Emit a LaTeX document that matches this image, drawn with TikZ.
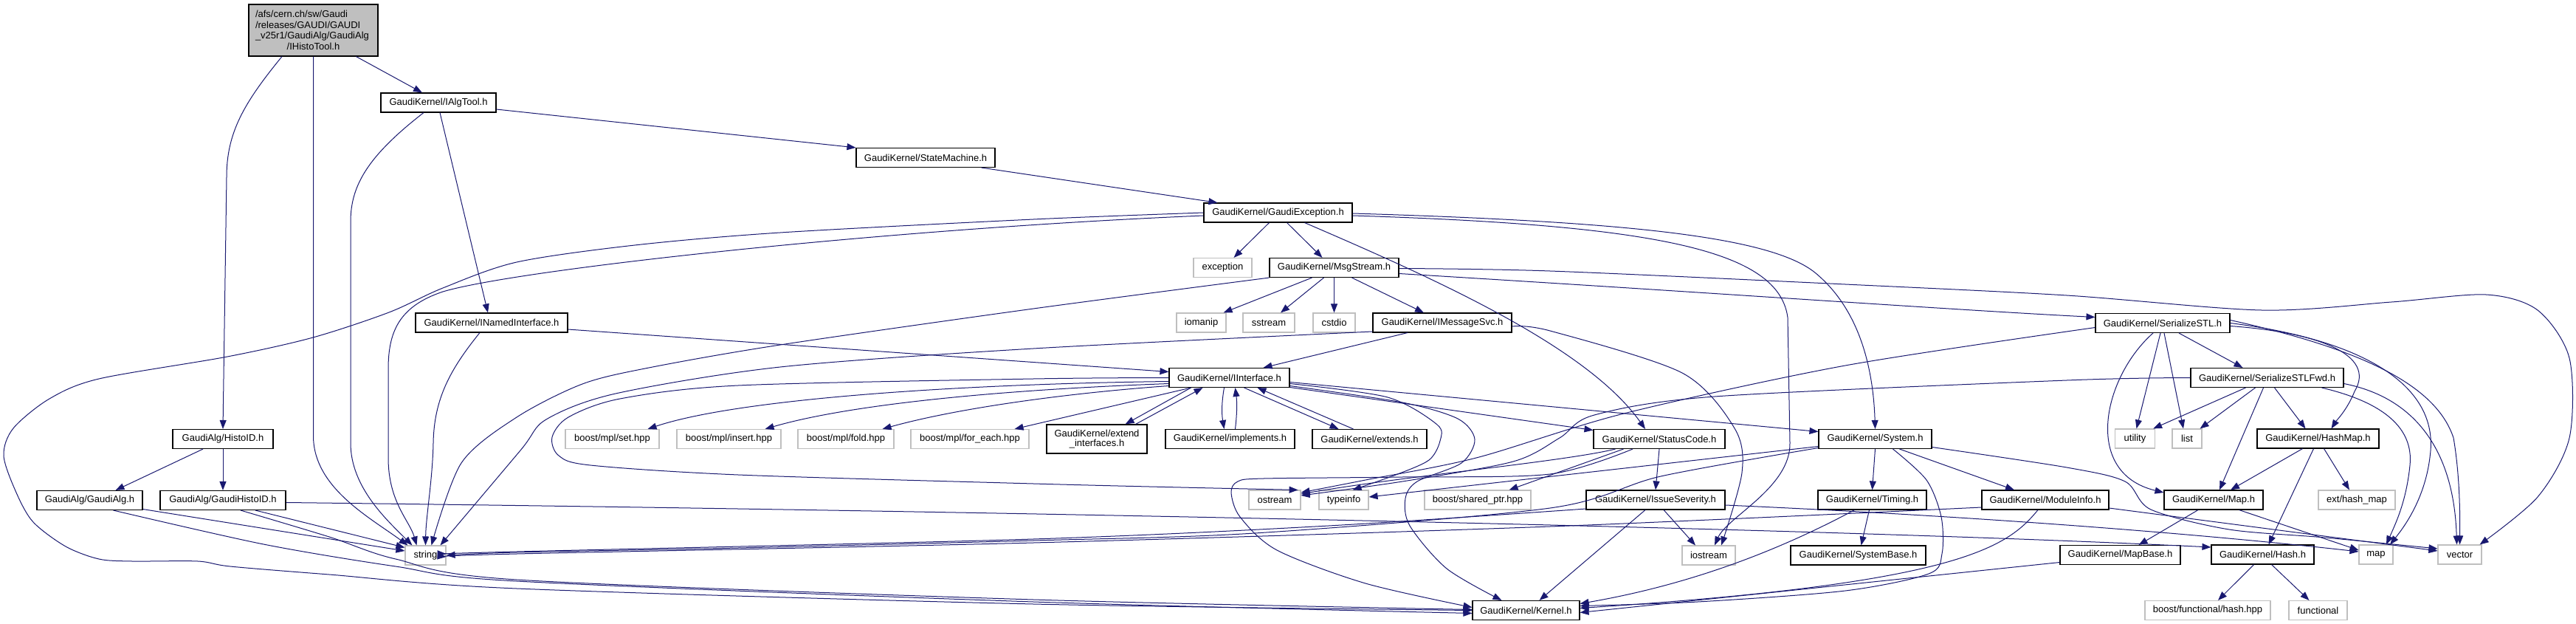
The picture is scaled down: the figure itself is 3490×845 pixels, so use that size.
\documentclass[tikz,border=0pt]{standalone}
\usepackage{fontspec}
\setmainfont{Liberation Sans}
\usetikzlibrary{arrows.meta,calc}
\definecolor{edgeblue}{HTML}{191970}
\definecolor{extgray}{HTML}{BFBFBF}
\begin{document}
\begin{tikzpicture}[x=1pt,y=-1pt,
  every node/.style={font=\fontsize{13}{14.7}\selectfont, inner sep=0pt, minimum height=26pt, anchor=center},
  doc/.style={draw=black, line width=1.1pt, fill=white},
  ext/.style={draw=extgray, line width=1.1pt, fill=white},
  edg/.style={draw=edgeblue, line width=1pt, -{Triangle[length=12pt,width=9pt]}},
]
\useasboundingbox (0,0) rectangle (3490,845);

% ---------------- nodes ----------------
\node[doc, fill=extgray, minimum width=175pt, minimum height=70pt, text width=157pt, align=left] (root) at (424.5,41)
  {/afs/cern.ch/sw/Gaudi\\/releases/GAUDI/GAUDI\\\_v25r1/GaudiAlg/GaudiAlg\\\makebox[157pt][c]{/IHistoTool.h}};
\node[doc, minimum width=156pt] (IAlgTool) at (594,139) {GaudiKernel/IAlgTool.h};
\node[doc, minimum width=188pt] (StateMachine) at (1254,213.5) {GaudiKernel/StateMachine.h};
\node[doc, minimum width=201pt] (GaudiException) at (1731.5,288) {GaudiKernel/GaudiException.h};
\node[ext, minimum width=79pt] (exception) at (1656.5,362.5) {exception};
\node[doc, minimum width=175pt] (MsgStream) at (1807.5,362.5) {GaudiKernel/MsgStream.h};
\node[ext, minimum width=67pt] (iomanip) at (1627.5,437) {iomanip};
\node[ext, minimum width=70pt] (sstream) at (1719,437) {sstream};
\node[ext, minimum width=57pt] (cstdio) at (1807.5,437) {cstdio};
\node[doc, minimum width=188pt] (IMessageSvc) at (1954,437) {GaudiKernel/IMessageSvc.h};
\node[doc, minimum width=206pt] (INamedInterface) at (666,437) {GaudiKernel/INamedInterface.h};
\node[doc, minimum width=182pt] (SerializeSTL) at (2930,437.5) {GaudiKernel/SerializeSTL.h};
\node[doc, minimum width=163pt] (IInterface) at (1665.5,511.5) {GaudiKernel/IInterface.h};
\node[doc, minimum width=207pt] (SerializeSTLFwd) at (3071.5,511.5) {GaudiKernel/SerializeSTLFwd.h};
\node[doc, minimum width=136pt] (HistoID) at (302,594.5) {GaudiAlg/HistoID.h};
\node[ext, minimum width=127pt] (mplset) at (829.5,594.5) {boost/mpl/set.hpp};
\node[ext, minimum width=141pt] (mplinsert) at (987.5,594.5) {boost/mpl/insert.hpp};
\node[ext, minimum width=130pt] (mplfold) at (1146,594.5) {boost/mpl/fold.hpp};
\node[ext, minimum width=160pt] (mplforeach) at (1314,594.5) {boost/mpl/for\_each.hpp};
\node[doc, minimum width=136pt, minimum height=39pt, align=center, font=\fontsize{13}{13.8}\selectfont] (extif) at (1486,594.5) {GaudiKernel/extend\\\_interfaces.h};
\node[doc, minimum width=175pt] (implements) at (1666.5,594.5) {GaudiKernel/implements.h};
\node[doc, minimum width=155pt] (extends) at (1855.5,594.5) {GaudiKernel/extends.h};
\node[doc, minimum width=178pt] (StatusCode) at (2248,594.5) {GaudiKernel/StatusCode.h};
\node[doc, minimum width=153pt] (System) at (2540.5,594.5) {GaudiKernel/System.h};
\node[ext, minimum width=54pt] (utility) at (2892.5,594) {utility};
\node[ext, minimum width=40pt] (stdlist) at (2963,594) {list};
\node[doc, minimum width=165pt] (HashMap) at (3140.5,594) {GaudiKernel/HashMap.h};
\node[doc, minimum width=143pt] (GaudiAlg) at (121.5,677.5) {GaudiAlg/GaudiAlg.h};
\node[doc, minimum width=170pt] (GaudiHistoID) at (302,677.5) {GaudiAlg/GaudiHistoID.h};
\node[ext, minimum width=70pt] (ostream) at (1727,677) {ostream};
\node[ext, minimum width=67pt] (typeinfo) at (1820.5,677) {typeinfo};
\node[ext, minimum width=144pt] (sharedptr) at (2002,677) {boost/shared\_ptr.hpp};
\node[doc, minimum width=188pt] (IssueSeverity) at (2243,677) {GaudiKernel/IssueSeverity.h};
\node[doc, minimum width=147pt] (Timing) at (2536.5,677) {GaudiKernel/Timing.h};
\node[doc, minimum width=172pt] (ModuleInfo) at (2771,677) {GaudiKernel/ModuleInfo.h};
\node[doc, minimum width=134pt] (Map) at (2999,677) {GaudiKernel/Map.h};
\node[ext, minimum width=104pt] (exthashmap) at (3193,677) {ext/hash\_map};
\node[ext, minimum width=55pt] (stdstring) at (576.5,752) {string};
\node[ext, minimum width=72pt] (iostream) at (2315,752) {iostream};
\node[doc, minimum width=183pt] (SystemBase) at (2517.5,752) {GaudiKernel/SystemBase.h};
\node[doc, minimum width=163pt] (MapBase) at (2872.5,751.5) {GaudiKernel/MapBase.h};
\node[doc, minimum width=139pt] (Hash) at (3065.5,751) {GaudiKernel/Hash.h};
\node[ext, minimum width=46pt] (stdmap) at (3219,751) {map};
\node[ext, minimum width=59pt] (stdvector) at (3332.5,751) {vector};
\node[doc, minimum width=145pt] (Kernel) at (2067.5,826.5) {GaudiKernel/Kernel.h};
\node[ext, minimum width=170pt] (hashhpp) at (2991,826.5) {boost/functional/hash.hpp};
\node[ext, minimum width=79pt] (functional) at (3140.5,826.5) {functional};

% ---------------- edges ----------------
% root
\draw[edg] ($(root.south)+(58,0)$) -- ($(IAlgTool.north)+(-22,0)$);
\draw[edg] (root.south) -- (424.5,590) .. controls (424.5,660) and (500,700) .. ($(stdstring.north west)+(4,0)$);
\draw[edg] ($(root.south)+(-42.5,0)$) .. controls (330,140) and (307,180) .. (307,240) -- (HistoID.north);
% IAlgTool
\draw[edg] ($(IAlgTool.south)+(2,0)$) -- ($(INamedInterface.north)+(-5,0)$);
\draw[edg] ($(IAlgTool.east)+(0,9)$) -- (StateMachine.north west);
\draw[edg] ($(IAlgTool.south)+(-20,0)$) .. controls (500,210) and (475,250) .. (475,300) -- (475,600) .. controls (475,660) and (525,705) .. ($(stdstring.north west)+(10,0)$);
% StateMachine
\draw[edg] ($(StateMachine.south east)+(-19,0)$) -- ($(GaudiException.north west)+(19,0)$);
% GaudiException
\draw[edg] ($(GaudiException.south)+(-12,0)$) -- ($(exception.north)+(15,0)$);
\draw[edg] ($(GaudiException.south)+(12,0)$) -- ($(MsgStream.north)+(-16,0)$);
\draw[edg] ($(GaudiException.south)+(36,0)$) .. controls (1950,380) and (2150,470) .. ($(StatusCode.north)+(-19,0)$);
\draw[edg] ($(GaudiException.east)+(0,1)$) .. controls (2200,300) and (2400,320) .. (2460,370) .. controls (2520,420) and (2538,500) .. (System.north);
\draw[edg] ($(GaudiException.east)+(0,4)$) .. controls (2250,305) and (2410,340) .. (2422,430) -- (2425,600) .. controls (2426,660) and (2340,700) .. ($(iostream.north)+(8,0)$);
\draw[edg] ($(GaudiException.west)+(0,4)$) .. controls (1200,310) and (700,365) .. (600,395) .. controls (540,415) and (526,450) .. (526,500) -- (526,620) .. controls (526,680) and (555,705) .. ($(stdstring.north)+(-12,0)$);
\draw[edg] plot[smooth] coordinates {(GaudiException.west) (1400,297) (1057,315) (860,332) (700,355) (600,390) (527,423) (424,457) (308,483) (134,513) (67,540) (18,580) (5,617) (22,667) (45,707) (89,740) (134,757) (179,760) (268,760) (312,767) (446,778) (700,797) (1400,818) (Kernel.west)};
% MsgStream
\draw[edg] ($(MsgStream.south)+(-30,0)$) -- ($(iomanip.north east)+(-4,0)$);
\draw[edg] ($(MsgStream.south)+(-14,0)$) -- ($(sstream.north)+(16,0)$);
\draw[edg] (MsgStream.south) -- (cstdio.north);
\draw[edg] ($(MsgStream.south)+(24,0)$) -- ($(IMessageSvc.north)+(-25,0)$);
\draw[edg] ($(MsgStream.east)+(0,8)$) .. controls (2300,395) and (2650,420) .. ($(SerializeSTL.west)+(0,-8)$);
\draw[edg] plot[smooth] coordinates {($(MsgStream.east)+(0,1)$) (2100,367) (2500,385) (2800,400) (3064,420) (3240,409) (3368,399) (3438,420) (3481,485) (3481,593) (3438,673) ($(stdvector.north east)+(-3,0)$)};
\draw[edg] plot[smooth] coordinates {(MsgStream.south west) (1400,418) (1057,467) (879,498) (789,520) (700,565) (625,627) ($(stdstring.north)+(8,0)$)};
% IMessageSvc
\draw[edg] ($(IMessageSvc.south)+(-47,0)$) -- ($(IInterface.north)+(46,0)$);
\draw[edg] plot[smooth] coordinates {($(IMessageSvc.west)+(0,12)$) (1400,472) (1057,497) (834,533) (740,568) (705,610) ($(stdstring.north)+(20,0)$)};
\draw[edg] plot[smooth] coordinates {($(IMessageSvc.east)+(0,5)$) (2100,448) (2279,505) (2350,580) (2360,640) ($(iostream.north)+(17,0)$)};
% INamedInterface
\draw[edg] ($(INamedInterface.east)+(0,9)$) -- ($(IInterface.west)+(0,-8)$);
\draw[edg] ($(INamedInterface.south)+(-16,0)$) .. controls (610,500) and (588,540) .. (587,600) .. controls (586,650) and (577,700) .. (stdstring.north);
% IInterface
\draw[edg] ($(IInterface.west)+(0,5)$) .. controls (1300,520) and (1000,540) .. ($(mplset.north east)+(-16,0)$);
\draw[edg] ($(IInterface.west)+(0,8)$) .. controls (1350,528) and (1150,548) .. ($(mplinsert.north east)+(-22,0)$);
\draw[edg] ($(IInterface.west)+(0,11)$) .. controls (1450,532) and (1300,552) .. ($(mplfold.north east)+(-16,0)$);
\draw[edg] ($(IInterface.south west)+(30,0)$) -- ($(mplforeach.north east)+(-20,0)$);
\draw[edg] ($(IInterface.south)+(-52,0)$) -- ($(extif.north east)+(-30,0)$);
\draw[edg] ($(extif.north east)+(-16,0)$) -- ($(IInterface.south)+(-36,0)$);
\draw[edg] ($(IInterface.south)+(-7,0)$) .. controls (1655,545) and (1655,560) .. ($(implements.north)+(-8,0)$);
\draw[edg] ($(implements.north)+(7,0)$) .. controls (1676,560) and (1676,545) .. ($(IInterface.south)+(8,0)$);
\draw[edg] ($(IInterface.south)+(20,0)$) -- ($(extends.north)+(-42,0)$);
\draw[edg] ($(extends.north)+(-22,0)$) -- ($(IInterface.south)+(38,0)$);
\draw[edg] plot[smooth] coordinates {(IInterface.west) (1400,513) (1000,522) (840,540) (770,565) (748,592) (757,617) (800,630) (1000,643) (1400,655) (1600,660) ($(ostream.north east)+(-4,0)$)};
\draw[edg] ($(IInterface.east)+(0,6)$) -- ($(System.west)+(0,-10)$);
\draw[edg] ($(IInterface.east)+(0,13)$) -- ($(StatusCode.west)+(0,-12)$);
\draw[edg] plot[smooth] coordinates {($(IInterface.east)+(0,11)$) (1900,545) (1975,567) (1998,595) (1980,627) (1920,652) (1904,675) (1910,712) (1960,770) ($(Kernel.north)+(-33,0)$)};
\draw[edg] plot[smooth] coordinates {($(IInterface.east)+(0,8)$) (1880,538) (1947,575) (1951,597) (1936,623) (1891,643) ($(typeinfo.north)+(12,0)$)};
% StatusCode
\draw[edg] (StatusCode.south) -- (IssueSeverity.north);
\draw[edg] ($(StatusCode.south west)+(30,0)$) .. controls (2120,625) and (1900,645) .. ($(ostream.east)+(0,-8)$);
\draw[edg] ($(StatusCode.south west)+(41,0)$) -- ($(sharedptr.north east)+(-30,0)$);
\draw[edg] plot[smooth] coordinates {($(StatusCode.south)+(-36,0)$) (2100,642) (1900,646) (1712,648) (1677,652) (1668,667) (1680,700) (1730,745) (1850,790) ($(Kernel.west)+(0,-4)$)};
% System
\draw[edg] ($(System.west)+(0,10)$) -- ($(typeinfo.east)+(0,-4)$);
\draw[edg] plot[smooth] coordinates {($(System.west)+(0,12)$) (2250,645) (2100,688) (1700,722) (1400,732) (1000,742) (700,748) (stdstring.east)};
\draw[edg] (System.south) -- (Timing.north);
\draw[edg] ($(System.south)+(33,0)$) -- ($(ModuleInfo.north)+(-42,0)$);
\draw[edg] plot[smooth] coordinates {($(System.south)+(24,0)$) (2610,650) (2630,700) (2631,750) (2613,777) (2500,800) (2300,815) ($(Kernel.east)+(0,-6)$)};
\draw[edg] plot[smooth] coordinates {($(System.east)+(0,11)$) (2800,633) (2879,652) (2914,690) (3020,717) (3150,728) ($(stdvector.west)+(0,-8)$)};
% Timing
\draw[edg] ($(Timing.south)+(-4,0)$) -- ($(SystemBase.north)+(4,0)$);
\draw[edg] ($(Timing.south)+(-24,0)$) .. controls (2420,740) and (2300,790) .. ($(Kernel.east)+(0,-9)$);
% ModuleInfo
\draw[edg] ($(ModuleInfo.south)+(-10,0)$) .. controls (2720,740) and (2660,790) .. ($(Kernel.east)+(0,-3)$);
\draw[edg] ($(ModuleInfo.east)+(0,11)$) -- ($(stdvector.west)+(0,-5)$);
\draw[edg] plot[smooth] coordinates {($(ModuleInfo.west)+(0,10)$) (2100,713) (1400,735) (700,750) ($(stdstring.east)+(0,2)$)};
% IssueSeverity
\draw[edg] plot[smooth] coordinates {($(IssueSeverity.west)+(0,12)$) (1800,712) (1400,730) (700,747) ($(stdstring.east)+(0,-2)$)};
\draw[edg] ($(IssueSeverity.south)+(11,0)$) -- ($(iostream.north)+(-18,0)$);
\draw[edg] ($(IssueSeverity.south)+(-14,0)$) -- ($(Kernel.north east)+(-55,0)$);
\draw[edg] ($(IssueSeverity.east)+(0,7)$) .. controls (2700,700) and (3000,725) .. ($(stdmap.west)+(0,-4)$);
% MapBase
\draw[edg] ($(MapBase.west)+(0,10)$) -- ($(Kernel.east)+(0,3)$);
% GaudiAlg / GaudiHistoID / HistoID
\draw[edg] ($(GaudiAlg.east)+(0,12)$) -- ($(stdstring.west)+(0,-6)$);
\draw[edg] plot[smooth] coordinates {($(GaudiAlg.south)+(32,0)$) (357,737) (536,767) (700,787) (1400,815) ($(Kernel.west)+(0,4)$)};
\draw[edg] ($(GaudiHistoID.south)+(44,0)$) -- ($(stdstring.north west)+(0,3)$);
\draw[edg] plot[smooth] coordinates {($(GaudiHistoID.south)+(24,0)$) (446,727) (536,757) (700,785) (1400,812) ($(Kernel.west)+(0,-1)$)};
\draw[edg] ($(GaudiHistoID.east)+(0,3)$) .. controls (1200,690) and (2400,712) .. ($(Hash.west)+(0,-10)$);
\draw[edg] ($(HistoID.south)+(-27,0)$) -- ($(GaudiAlg.north)+(35,0)$);
\draw[edg] (HistoID.south) -- (GaudiHistoID.north);
% SerializeSTL
\draw[edg] ($(SerializeSTL.south)+(22,0)$) -- ($(SerializeSTLFwd.north)+(-33,0)$);
\draw[edg] ($(SerializeSTL.south)+(-3,0)$) -- ($(utility.north)+(2,0)$);
\draw[edg] ($(SerializeSTL.south)+(2,0)$) -- ($(stdlist.north)+(-5,0)$);
\draw[edg] ($(SerializeSTL.south)+(-13,0)$) .. controls (2850,510) and (2820,640) .. ($(Map.west)+(0,-10)$);
\draw[edg] ($(SerializeSTL.east)+(0,4)$) .. controls (3140,450) and (3220,480) .. (3190,530) .. controls (3180,555) and (3165,570) .. ($(HashMap.north)+(18,0)$);
\draw[edg] (SerializeSTL.east) .. controls (3200,460) and (3300,520) .. (3293,610) .. controls (3288,670) and (3260,710) .. ($(stdmap.north)+(19,0)$);
\draw[edg] ($(SerializeSTL.east)+(0,-4)$) .. controls (3196,472) and (3300,520) .. (3324,593) .. controls (3332,640) and (3333,690) .. ($(stdvector.north)+(0,0)$);
\draw[edg] plot[smooth] coordinates {($(SerializeSTL.west)+(0,6)$) (2500,495) (2200,560) (2000,620) (1850,650) ($(ostream.east)+(0,-10)$)};
% SerializeSTLFwd
\draw[edg] ($(SerializeSTLFwd.south)+(-29,0)$) -- ($(utility.north east)+(-3,0)$);
\draw[edg] ($(SerializeSTLFwd.south)+(-16,0)$) -- ($(stdlist.north east)+(-3,0)$);
\draw[edg] ($(SerializeSTLFwd.south)+(-5,0)$) -- ($(Map.north)+(8,0)$);
\draw[edg] ($(SerializeSTLFwd.south)+(10,0)$) -- ($(HashMap.north)+(-17,0)$);
\draw[edg] ($(SerializeSTLFwd.south east)+(-30,0)$) .. controls (3230,545) and (3270,580) .. (3265,630) .. controls (3260,680) and (3245,710) .. ($(stdmap.north)+(14,0)$);
\draw[edg] ($(SerializeSTLFwd.east)+(0,8)$) .. controls (3280,540) and (3325,620) .. ($(stdvector.north)+(-4,0)$);
\draw[edg] plot[smooth] coordinates {(SerializeSTLFwd.west) (2800,515) (2323,537) (2160,562) (2113,593) (2050,625) (1900,652) ($(ostream.east)+(0,-6)$)};
% HashMap, Map, Hash
\draw[edg] ($(HashMap.south)+(-21,0)$) -- ($(Map.north)+(23,0)$);
\draw[edg] ($(HashMap.south)+(-6,0)$) -- ($(Hash.north)+(8,0)$);
\draw[edg] ($(HashMap.south)+(8,0)$) -- ($(exthashmap.north)+(-10,0)$);
\draw[edg] ($(Map.south)+(-21,0)$) -- ($(MapBase.north)+(25,0)$);
\draw[edg] ($(Map.south east)+(-33,0)$) -- ($(stdmap.west)+(0,-6)$);
\draw[edg] ($(Hash.south)+(-12,0)$) -- ($(hashhpp.north)+(14,0)$);
\draw[edg] ($(Hash.south)+(12,0)$) -- ($(functional.north)+(-12,0)$);
\end{tikzpicture}
\end{document}
